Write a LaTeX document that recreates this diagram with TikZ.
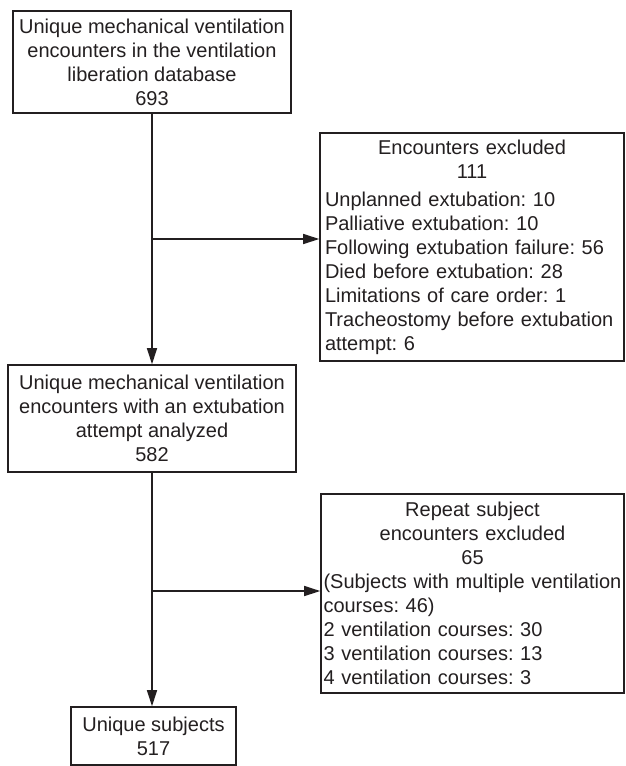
\documentclass[tikz,border=0pt]{standalone}
\usepackage{fontspec}
\setmainfont{Liberation Sans}
\usepackage{tikz}
\usetikzlibrary{arrows.meta,calc}
\frenchspacing
\hyphenpenalty=10000
\exhyphenpenalty=10000
\definecolor{ink}{HTML}{231F20}
\tikzstyle{flowbox}=[draw=ink, text=ink, line width=1.6pt, inner ysep=0pt, font=\fontsize{20}{24}\selectfont]
\tikzstyle{centrebox}=[flowbox, align=center, inner xsep=4pt]
\tikzstyle{listbox}=[flowbox, align=left]
\tikzstyle{flow}=[draw=ink, line width=1.6pt, -{Triangle[length=16pt,width=10pt]}]

\begin{document}
\begin{tikzpicture}[x=1pt,y=-1pt]
	\useasboundingbox (0,0) rectangle (625,766);
	\node[centrebox, minimum width=278, minimum height=102] (enc) at (152,62) {Unique mechanical ventilation\\encounters in the ventilation\\liberation database\\693};
	\node[listbox, text width=294, inner xsep=5pt, minimum height=228] (exc) at (472,247) {{\centering Encounters excluded\\111\par}\vspace{4pt}Unplanned extubation: 10\\Palliative extubation: 10\\Following extubation failure: 56\\Died before extubation: 28\\Limitations of care order: 1\\Tracheostomy before extubation\\attempt: 6};
	\node[centrebox, minimum width=288, minimum height=107] (att) at (152,418.5) {Unique mechanical ventilation\\encounters with an extubation\\attempt analyzed\\582};
	\node[listbox, text width=298, inner xsep=2.5pt, minimum height=199] (rep) at (472.5,593.5) {{\centering Repeat subject\\encounters excluded\\65\par}(Subjects with multiple ventilation\\courses: 46)\\2 ventilation courses: 30\\3 ventilation courses: 13\\4 ventilation courses: 3};
	\node[centrebox, minimum width=165, minimum height=58] (uniq) at (153.5,736) {Unique subjects\\517};
	\coordinate (br1) at (152,239);
	\coordinate (br2) at (152,591);
	\draw[flow] (enc.south) -- (att.north);
	\draw[flow] (br1) -- (br1 -| exc.west);
	\draw[flow] (att.south) -- (att.south |- uniq.north);
	\draw[flow] (br2) -- (br2 -| rep.west);
\end{tikzpicture}
\end{document}
